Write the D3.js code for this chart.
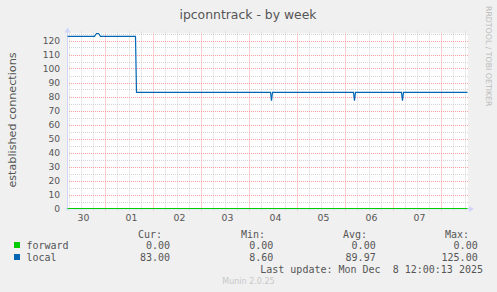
<!DOCTYPE html>
<html><head><meta charset="utf-8">
<script src="https://cdn.jsdelivr.net/npm/d3@7"></script>
<style>
html,body{margin:0;padding:0;background:#f0f0f0;}
svg{display:block;}
</style></head>
<body>
<svg id="c" width="497" height="292"></svg>
<script>
// ---- data ----
const title = "ipconntrack - by week";
const yLabel = "established connections";
const yTicks = [0,10,20,30,40,50,60,70,80,90,100,110,120];
const dayLabels = ["30","01","02","03","04","05","06","07"];
const dayNoons = ["2025-11-30T12:00Z","2025-12-01T12:00Z","2025-12-02T12:00Z","2025-12-03T12:00Z","2025-12-04T12:00Z","2025-12-05T12:00Z","2025-12-06T12:00Z","2025-12-07T12:00Z"];
const timeStart = "2025-11-30T05:00Z";
const timeEnd = "2025-12-08T13:00Z";
const yMax = 125;

const localTimes = ["2025-11-30T05:00Z","2025-11-30T18:30Z","2025-11-30T19:30Z","2025-11-30T20:30Z","2025-11-30T21:30Z",
  "2025-12-01T15:00Z","2025-12-01T15:30Z",
  "2025-12-04T10:30Z","2025-12-04T11:00Z","2025-12-04T11:30Z",
  "2025-12-06T04:00Z","2025-12-06T04:30Z","2025-12-06T05:00Z",
  "2025-12-07T04:00Z","2025-12-07T04:30Z","2025-12-07T05:00Z",
  "2025-12-08T13:00Z"];
const localValues = [123,123,125,125,123, 123,83, 83,77,83, 83,77,83, 83,77,83, 83];
const forwardTimes = ["2025-11-30T05:00Z","2025-12-08T13:00Z"];
const forwardValues = [0,0];

const seriesNames = ["forward","local"];
const seriesColors = ["#00cc00","#0066b3"];
const statHeaders = ["Cur:","Min:","Avg:","Max:"];
const statForward = ["0.00","0.00","0.00","0.00"];
const statLocal = ["83.00","8.60","89.97","125.00"];
const lastUpdate = "Last update: Mon Dec  8 12:00:13 2025";
const watermark = "RRDTOOL / TOBI OETIKER";
const version = "Munin 2.0.25";

// ---- drawing ----
const svg = d3.select("#c");
const L = 67, R = 467, T = 33.5, B = 208.5;
const x = d3.scaleUtc().domain([new Date(timeStart), new Date(timeEnd)]).range([L+0.5, R+0.5]);
const y = d3.scaleLinear().domain([0, yMax]).range([B, T]);
const font = "'DejaVu Sans', sans-serif";
const mono = "'DejaVu Sans Mono', monospace";
const txt = "#555";

svg.append("rect").attr("width",497).attr("height",292).attr("fill","#f0f0f0");
svg.append("rect").attr("x",L).attr("y",T).attr("width",R-L+1).attr("height",B-T+1).attr("fill","#ffffff");

const g = svg.append("g");
// minor grid
const minorY = d3.range(0, yMax+0.1, 5).filter(v => v % 10 !== 0);
g.selectAll(".my").data(minorY).join("line")
  .attr("x1",L).attr("x2",R+1).attr("y1",d=>Math.round(y(d))+0.5).attr("y2",d=>Math.round(y(d))+0.5)
  .attr("stroke","#d4d4d4").attr("stroke-dasharray","1,1");
const sixH = d3.utcHour.every(6).range(new Date(timeStart), new Date(timeEnd)).filter(d => d.getUTCHours() !== 0);
g.selectAll(".mx").data(sixH).join("line")
  .attr("x1",d=>x(d)).attr("x2",d=>x(d)).attr("y1",T-2).attr("y2",B+2)
  .attr("stroke","#d4d4d4").attr("stroke-dasharray","1,1");
// major grid
const majorY = yTicks.filter(v=>v>0);
g.selectAll(".My").data(majorY).join("line")
  .attr("x1",L).attr("x2",R+1).attr("y1",d=>Math.round(y(d))+0.5).attr("y2",d=>Math.round(y(d))+0.5)
  .attr("stroke","#ffa0a0").attr("stroke-dasharray","1,1");
const days = d3.utcDay.range(new Date(timeStart), new Date(timeEnd));
g.selectAll(".Mx").data(days).join("line")
  .attr("x1",d=>x(d)).attr("x2",d=>x(d)).attr("y1",T).attr("y2",B+3)
  .attr("stroke","#ffa0a0").attr("stroke-dasharray","1,1");

// axes
svg.append("line").attr("x1",L+0.5).attr("x2",L+0.5).attr("y1",T-3).attr("y2",B+2).attr("stroke","#cfd6f8");
svg.append("line").attr("x1",L-2).attr("x2",R+4).attr("y1",B+0.5).attr("y2",B+0.5).attr("stroke","#cfd6f8");
svg.append("path").attr("d",`M${L-2.5},${T-1} L${L+3.5},${T-1} L${L+0.5},${T-6} Z`).attr("fill","#cfd6f8");
svg.append("path").attr("d",`M${R+2},${B-2.5} L${R+2},${B+3.5} L${R+7},${B+0.5} Z`).attr("fill","#cfd6f8");

// tick labels
svg.selectAll(".yt").data(yTicks).join("text")
  .attr("x",60).attr("y",d=>y(d)).attr("dy","0.35em").attr("text-anchor","end")
  .attr("font-family",font).attr("font-size",9.1).attr("fill",txt).text(d=>d);
svg.selectAll(".xt").data(dayLabels).join("text")
  .attr("x",(d,i)=>x(new Date(dayNoons[i]))+2).attr("y",220.5).attr("text-anchor","middle")
  .attr("font-family",font).attr("font-size",9.3).attr("fill",txt).text(d=>d);

// lines
const line = d3.line().x(d=>x(d[0])).y(d=>y(d[1]));
const fwd = forwardTimes.map((t,i)=>[new Date(t), forwardValues[i]]);
const loc = localTimes.map((t,i)=>[new Date(t), localValues[i]]);
svg.append("path").attr("d",line(fwd)).attr("fill","none").attr("stroke",seriesColors[0]).attr("stroke-width",1.2);
svg.append("path").attr("d",line(loc)).attr("fill","none").attr("stroke",seriesColors[1]).attr("stroke-width",1.2);

// title & labels
svg.append("text").attr("x",248).attr("y",18.5).attr("text-anchor","middle")
  .attr("font-family",font).attr("font-size",12.4).attr("fill",txt).text(title);
svg.append("text").attr("transform","translate(15.5,120) rotate(-90)").attr("text-anchor","middle")
  .attr("font-family",font).attr("font-size",11.2).attr("fill",txt).text(yLabel);
svg.append("text").attr("transform","translate(485.5,6) rotate(90)").attr("text-anchor","start")
  .attr("font-family",font).attr("font-size",7.8).attr("fill","#bbbbbb").text(watermark);

// legend
const headerX = [162,265,367,469];
const valX = [170,273.3,375.7,477.7];
svg.selectAll(".sh").data(statHeaders).join("text")
  .attr("x",(d,i)=>headerX[i]).attr("y",237.5).attr("text-anchor","end")
  .attr("font-family",mono).attr("font-size",10).attr("fill",txt).text(d=>d);
const rows = [statForward, statLocal];
rows.forEach((r,ri)=>{
  const yy = 248.5 + ri*12;
  svg.append("rect").attr("x",14).attr("y",yy-6.5).attr("width",6).attr("height",6).attr("fill",seriesColors[ri]);
  svg.append("text").attr("x",26.5).attr("y",yy).attr("font-family",mono).attr("font-size",10).attr("fill",txt).text(seriesNames[ri]);
  svg.selectAll(null).data(r).join("text")
    .attr("x",(d,i)=>valX[i]).attr("y",yy).attr("text-anchor","end")
    .attr("font-family",mono).attr("font-size",10).attr("fill",txt).text(d=>d);
});
svg.append("text").attr("x",483).attr("y",273).attr("text-anchor","end").attr("xml:space","preserve")
  .style("white-space","pre").attr("font-family",mono).attr("font-size",10).attr("fill",txt).text(lastUpdate);
svg.append("text").attr("x",248.5).attr("y",284).attr("text-anchor","middle")
  .attr("font-family",font).attr("font-size",8).attr("fill","#c8c8c8").text(version);
</script>
</body></html>
